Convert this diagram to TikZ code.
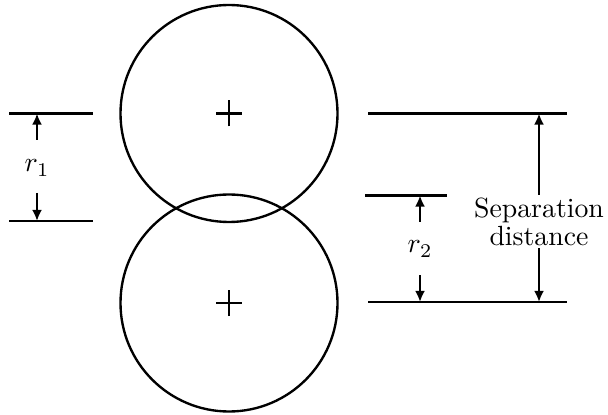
\documentclass[tikz,border=0pt]{standalone}
\usetikzlibrary{arrows.meta}
\tikzset{
  ln/.style={line width=0.85pt},
  dimarrow/.style={line width=0.85pt,-{Latex[length=4pt,width=3.6pt]}},
  plusmark/.style={line width=0.85pt},
  lbl/.style={inner sep=0pt,font=\normalsize}
}
\begin{document}
\begin{tikzpicture}[x=0.36pt,y=-0.36pt]
\useasboundingbox (0,0) rectangle (608,415);
% circle centres
\coordinate (c1) at (229,113.5);
\coordinate (c2) at (229,303);
\draw[ln] (c1) circle (108.5*0.36pt);
\draw[ln] (c2) circle (108.5*0.36pt);
\draw[plusmark] ([xshift=-13*0.36pt]c1) -- ([xshift=13*0.36pt]c1);
\draw[plusmark] ([yshift=-13*0.36pt]c1) -- ([yshift=13*0.36pt]c1);
\draw[plusmark] ([xshift=-13*0.36pt]c2) -- ([xshift=13*0.36pt]c2);
\draw[plusmark] ([yshift=-13*0.36pt]c2) -- ([yshift=13*0.36pt]c2);
% left reference lines
\coordinate (l1a) at (9,113.5); \coordinate (l1b) at (93,113.5);
\coordinate (l2a) at (9,221);   \coordinate (l2b) at (93,221);
\draw[ln] (l1a) -- (l1b);
\draw[ln] (l2a) -- (l2b);
% right reference lines
\coordinate (rta) at (368,113.5); \coordinate (rtb) at (567,113.5);
\coordinate (rma) at (365,195.5); \coordinate (rmb) at (447,195.5);
\coordinate (rba) at (368,302);   \coordinate (rbb) at (567,302);
\draw[ln] (rta) -- (rtb);
\draw[ln] (rma) -- (rmb);
\draw[ln] (rba) -- (rbb);
% r1
\node[lbl] (r1) at (37,168) {$r_1$};
\coordinate (r1u) at (37,140); \coordinate (r1ut) at (37,113.5);
\coordinate (r1d) at (37,193); \coordinate (r1dt) at (37,221);
\draw[dimarrow] (r1u) -- (r1ut);
\draw[dimarrow] (r1d) -- (r1dt);
% r2
\node[lbl] (r2) at (420,249) {$r_2$};
\coordinate (r2u) at (420,222); \coordinate (r2ut) at (420,195.5);
\coordinate (r2d) at (420,275); \coordinate (r2dt) at (420,302);
\draw[dimarrow] (r2u) -- (r2ut);
\draw[dimarrow] (r2d) -- (r2dt);
% separation distance
\node[lbl,align=center] (sep) at (539,222) {Separation\\[-2pt]distance};
\coordinate (su) at (539,195); \coordinate (sut) at (539,113.5);
\coordinate (sd) at (539,248); \coordinate (sdt) at (539,302);
\draw[dimarrow] (su) -- (sut);
\draw[dimarrow] (sd) -- (sdt);
\end{tikzpicture}
\end{document}
